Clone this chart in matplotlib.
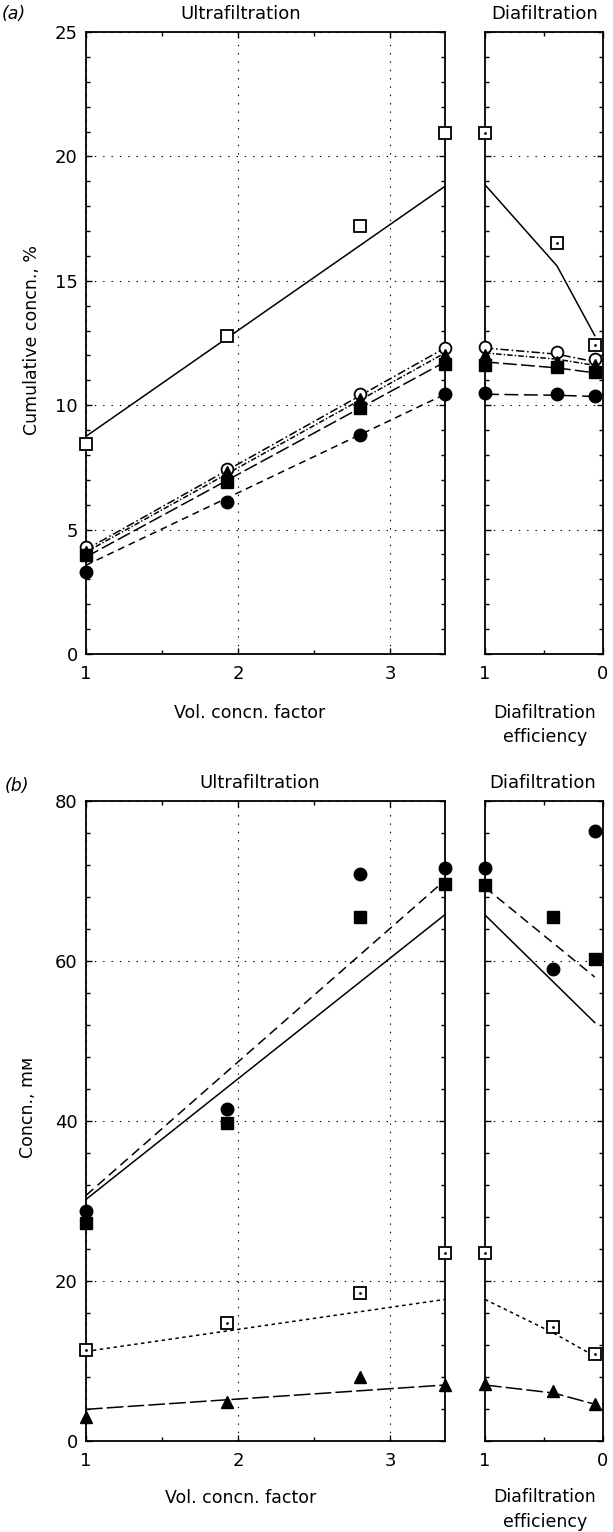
import matplotlib
matplotlib.use("Agg")
import matplotlib.pyplot as plt
from matplotlib.ticker import MultipleLocator, FixedLocator, NullFormatter

plt.rcParams['font.family'] = ['DejaVu Sans']
plt.rcParams['lines.scale_dashes'] = False

# ---------------- data: panel (a) ----------------
a_vcf = [1.0, 1.93, 2.80, 3.36]
a_ultra_open_sq = [8.43, 12.8, 17.2, 20.95]
a_ultra_open_circ = [4.31, 7.43, 10.47, 12.3]
a_ultra_tri = [4.11, 7.32, 10.24, 12.0]
a_ultra_fill_sq = [3.98, 6.9, 9.87, 11.67]
a_ultra_fill_circ = [3.3, 6.09, 8.82, 10.47]

a_fit_vcf = [1.0, 3.36]
a_fit_open_sq = [8.75, 18.8]
a_fit_open_circ = [4.2, 12.3]
a_fit_tri = [4.1, 12.1]
a_fit_fill_sq = [3.9, 11.74]
a_fit_fill_circ = [3.57, 10.44]

a_eff = [1.0, 0.39, 0.07]
a_dia_open_sq = [20.95, 16.53, 12.41]
a_dia_open_circ = [12.34, 12.14, 11.84]
a_dia_tri = [12.0, 11.74, 11.6]
a_dia_fill_sq = [11.6, 11.54, 11.34]
a_dia_fill_circ = [10.49, 10.44, 10.36]

a_dfit_open_sq = [18.86, 15.6, 12.8]
a_dfit_open_circ = [12.3, 12.05, 11.75]
a_dfit_tri = [12.1, 11.85, 11.6]
a_dfit_fill_sq = [11.74, 11.5, 11.3]
a_dfit_fill_circ = [10.44, 10.4, 10.35]

# ---------------- data: panel (b) ----------------
b_vcf = [1.0, 1.93, 2.80, 3.36]
b_ultra_fill_circ = [28.8, 41.5, 70.9, 71.6]
b_ultra_fill_sq = [27.2, 39.8, 65.5, 69.6]
b_ultra_open_sq = [11.4, 14.8, 18.5, 23.5]
b_ultra_tri = [3.0, 4.9, 8.0, 7.0]

b_fit_vcf = [1.0, 3.36]
b_fit_solid = [30.2, 65.8]
b_fit_dashed = [30.7, 70.1]
b_fit_dotted = [11.2, 17.7]
b_fit_longdash = [3.96, 7.0]

b_eff = [1.0, 0.42, 0.07]
b_dia_fill_circ = [71.6, 59.0, 76.25]
b_dia_fill_sq = [69.5, 65.5, 60.2]
b_dia_open_sq = [23.5, 14.3, 10.9]
b_dia_tri = [7.1, 6.3, 4.6]

b_dfit_eff = [1.0, 0.07]
b_dfit_solid = [65.75, 52.3]
b_dfit_dashed = [69.2, 58.0]
b_dfit_eff3 = [1.0, 0.42, 0.07]
b_dfit_dotted = [17.7, 13.5, 10.6]
b_dfit_longdash = [7.0, 6.0, 4.6]

ultra_xticks = [1, 2, 3]
dia_xticks = [1, 0]

# ---------------- figure ----------------
W, H = 613, 1532
fig = plt.figure(figsize=(W / 100, H / 100), dpi=100)


def add_ax(left, right, top, bottom):
    return fig.add_axes([left / W, 1 - bottom / H, (right - left) / W, (bottom - top) / H])


def style_ax(ax, ylim, ymaj, ymin, xlim, xmaj, xmin, ylabels=True, vgrid=True):
    ax.set_ylim(*ylim)
    ax.set_xlim(*xlim)
    ax.yaxis.set_major_locator(MultipleLocator(ymaj))
    ax.yaxis.set_minor_locator(MultipleLocator(ymin))
    ax.xaxis.set_major_locator(FixedLocator(xmaj))
    ax.xaxis.set_minor_locator(FixedLocator(xmin))
    ax.tick_params(which='both', direction='in', top=True, right=True, width=1.0)
    ax.tick_params(which='major', length=4.5)
    ax.tick_params(which='minor', length=3)
    ax.tick_params(axis='x', labelsize=13, pad=8)
    ax.tick_params(axis='y', labelsize=13, pad=6)
    if not ylabels:
        ax.yaxis.set_major_formatter(NullFormatter())
    for s in ax.spines.values():
        s.set_linewidth(1.3)
    gkw = dict(color='black', linewidth=0.8, linestyle=(0, (1, 5)))
    ax.grid(axis='y', which='major', **gkw)
    if vgrid:
        ax.grid(axis='x', which='major', **gkw)
    ax.set_axisbelow(True)


LW = 1.1
ms = 8.5
open_sq = dict(marker='s', ms=ms, mfc='white', mec='black', mew=1.3, ls='none', clip_on=False, zorder=5)
open_ci = dict(marker='o', ms=ms, mfc='white', mec='black', mew=1.3, ls='none', clip_on=False, zorder=5)
fill_sq = dict(marker='s', ms=8, color='black', ls='none', clip_on=False, zorder=6)
fill_ci = dict(marker='o', ms=9, color='black', ls='none', clip_on=False, zorder=6)
fill_tr = dict(marker='^', ms=9, color='black', ls='none', clip_on=False, zorder=6)
dot = dict(marker='.', ms=2, color='black', ls='none', clip_on=False, zorder=7)

ls_solid = '-'
ls_short = (0, (5, 3.5))
ls_long = (0, (10, 3))
ls_dashdot = (0, (6, 2, 1.2, 2))
ls_dashdot2 = (0, (4, 1.5, 1, 1.5))
ls_dotted = (0, (2.5, 2.5))
ls_mid = (0, (7, 4))

# ---------------- panel (a) ----------------
ax1 = add_ax(86, 445, 32, 654)
style_ax(ax1, (0, 25), 5, 1, (1, 3.36), ultra_xticks, [1.5, 2.5])
ax1.plot(a_fit_vcf, a_fit_open_sq, color='black', lw=LW, ls=ls_solid)
ax1.plot(a_fit_vcf, a_fit_open_circ, color='black', lw=LW, ls=ls_dashdot)
ax1.plot(a_fit_vcf, a_fit_tri, color='black', lw=LW, ls=ls_dashdot2)
ax1.plot(a_fit_vcf, a_fit_fill_sq, color='black', lw=LW, ls=ls_long)
ax1.plot(a_fit_vcf, a_fit_fill_circ, color='black', lw=LW, ls=ls_short)
ax1.plot(a_vcf, a_ultra_open_sq, **open_sq)
ax1.plot(a_vcf, a_ultra_open_circ, **open_ci)
ax1.plot(a_vcf, a_ultra_tri, **fill_tr)
ax1.plot(a_vcf, a_ultra_fill_sq, **fill_sq)
ax1.plot(a_vcf, a_ultra_fill_circ, **fill_ci)
ax1.set_xticklabels([str(t) for t in ultra_xticks])

ax2 = add_ax(485, 603, 32, 654)
style_ax(ax2, (0, 25), 5, 1, (1, 0), dia_xticks, [0.5], ylabels=False, vgrid=False)
ax2.plot(a_eff, a_dfit_open_sq, color='black', lw=LW, ls=ls_solid)
ax2.plot(a_eff, a_dfit_open_circ, color='black', lw=LW, ls=ls_dashdot)
ax2.plot(a_eff, a_dfit_tri, color='black', lw=LW, ls=ls_dashdot2)
ax2.plot(a_eff, a_dfit_fill_sq, color='black', lw=LW, ls=ls_long)
ax2.plot(a_eff, a_dfit_fill_circ, color='black', lw=LW, ls=(0, (10, 4)))
ax2.plot(a_eff, a_dia_open_sq, **open_sq)
ax2.plot(a_eff, a_dia_open_sq, **dot)
ax2.plot(a_eff, a_dia_open_circ, **open_ci)
ax2.plot(a_eff, a_dia_tri, **fill_tr)
ax2.plot(a_eff, a_dia_fill_sq, **fill_sq)
ax2.plot(a_eff, a_dia_fill_circ, **fill_ci)
ax2.set_xticklabels([str(t) for t in dia_xticks])

# ---------------- panel (b) ----------------
ax3 = add_ax(86, 445, 801, 1441)
style_ax(ax3, (0, 80), 20, 4, (1, 3.36), ultra_xticks, [1.5, 2.5])
ax3.plot(b_fit_vcf, b_fit_solid, color='black', lw=LW, ls=ls_solid)
ax3.plot(b_fit_vcf, b_fit_dashed, color='black', lw=LW, ls=ls_mid)
ax3.plot(b_fit_vcf, b_fit_dotted, color='black', lw=LW, ls=ls_dotted)
ax3.plot(b_fit_vcf, b_fit_longdash, color='black', lw=LW, ls=(0, (12, 3)))
ax3.plot(b_vcf, b_ultra_fill_circ, **fill_ci)
ax3.plot(b_vcf, b_ultra_fill_sq, **fill_sq)
ax3.plot(b_vcf, b_ultra_open_sq, **open_sq)
ax3.plot(b_vcf, b_ultra_open_sq, **dot)
ax3.plot(b_vcf, b_ultra_tri, **fill_tr)
ax3.set_xticklabels([str(t) for t in ultra_xticks])

ax4 = add_ax(485, 603, 801, 1441)
style_ax(ax4, (0, 80), 20, 4, (1, 0), dia_xticks, [0.5], ylabels=False, vgrid=False)
ax4.plot(b_dfit_eff, b_dfit_solid, color='black', lw=LW, ls=ls_solid)
ax4.plot(b_dfit_eff, b_dfit_dashed, color='black', lw=LW, ls=ls_mid)
ax4.plot(b_dfit_eff3, b_dfit_dotted, color='black', lw=LW, ls=ls_dotted)
ax4.plot(b_dfit_eff3, b_dfit_longdash, color='black', lw=LW, ls=(0, (12, 3)))
ax4.plot(b_eff, b_dia_fill_circ, **fill_ci)
ax4.plot(b_eff, b_dia_fill_sq, **fill_sq)
ax4.plot(b_eff, b_dia_open_sq, **open_sq)
ax4.plot(b_eff, b_dia_open_sq, **dot)
ax4.plot(b_eff, b_dia_tri, **fill_tr)
ax4.set_xticklabels([str(t) for t in dia_xticks])

# ---------------- texts ----------------
def ftext(x, y, s, **kw):
    fig.text(x / W, 1 - y / H, s, ha=kw.pop('ha', 'center'), va=kw.pop('va', 'center'),
             fontsize=kw.pop('fontsize', 13), **kw)

ftext(14, 14, "(a)", style='italic', fontsize=12.5)
ftext(241, 14, "Ultrafiltration")
ftext(545, 14, "Diafiltration")
ftext(32, 340, "Cumulative concn., %", rotation=90, fontsize=12.5)
ftext(250, 713, "Vol. concn. factor", fontsize=12.5)
ftext(545, 713, "Diafiltration", fontsize=12.5)
ftext(545, 737, "efficiency", fontsize=12.5)

ftext(17, 786, "(b)", style='italic', fontsize=12.5)
ftext(260, 783, "Ultrafiltration")
ftext(543, 783, "Diafiltration")
ftext(28, 1107, "Concn., m\u1d0d", rotation=90, fontsize=12.5)
ftext(241, 1498, "Vol. concn. factor", fontsize=12.5)
ftext(545, 1497, "Diafiltration", fontsize=12.5)
ftext(545, 1522, "efficiency", fontsize=12.5)

fig.savefig("out.png", dpi=100)
